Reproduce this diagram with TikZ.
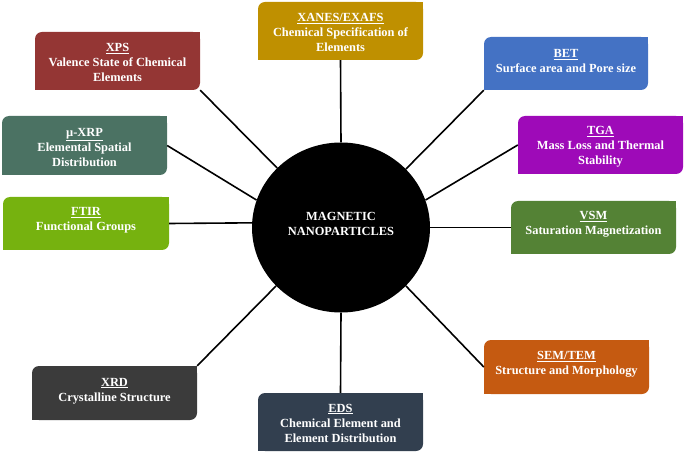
\documentclass[tikz,border=0pt]{standalone}
\usepackage{fontspec}
\setmainfont{Liberation Serif}
\usetikzlibrary{shapes.geometric}
\definecolor{cxps}{HTML}{943634}
\definecolor{cxanes}{HTML}{BF9000}
\definecolor{cmxrp}{HTML}{4B7263}
\definecolor{cftir}{HTML}{76B20F}
\definecolor{cbet}{HTML}{4472C4}
\definecolor{ctga}{HTML}{9E0AB8}
\definecolor{cvsm}{HTML}{548235}
\definecolor{cxrd}{HTML}{3B3B3B}
\definecolor{ceds}{HTML}{323F4F}
\definecolor{csem}{HTML}{C55A11}
\tikzset{
  tbox/.style={rectangle, rounded corners=7pt, inner sep=0pt, draw=none},
  ttext/.style={text=white, font=\fontsize{12.4}{15}\selectfont\bfseries, align=center, inner sep=0pt},
  link/.style={draw=black, line width=1.6pt},
  hub/.style={ellipse, fill=black, inner sep=0pt, minimum width=178pt, minimum height=170pt},
}
\newcommand\techbox[8]{%
  \node[tbox, fill=#6, minimum width=#4pt, minimum height=#5pt] (#1) at (#2,#3) {};
  \fill[#6] (#1.north east) rectangle ++(-8pt,-8pt);
  \fill[#6] (#1.south west) rectangle ++(8pt,8pt);
  \node[ttext] (#1-t) at (#2,#7) {#8};
}
\begin{document}
\begin{tikzpicture}[x=1pt,y=-1pt]
\useasboundingbox (0,0) rectangle (685,454);
\node[hub] (c) at (341,227.5) {};
\node[ttext] (ct) at (341,223.5) {MAGNETIC\\NANOPARTICLES};

\techbox{xps}{117.5}{61}{165}{58}{cxps}{62.5}{\underline{XPS}\\Valence State of Chemical\\Elements}
\techbox{xanes}{340.5}{31}{165}{58}{cxanes}{32.5}{\underline{XANES/EXAFS}\\Chemical Specification of\\Elements}
\techbox{mxrp}{84.5}{145.5}{165}{59}{cmxrp}{147.5}{\underline{µ-XRP}\\Elemental Spatial\\Distribution}
\techbox{ftir}{86}{223.5}{166}{53}{cftir}{220.5}{\underline{FTIR}\\Functional Groups}
\techbox{bet}{566}{63.5}{164}{53}{cbet}{61}{\underline{BET}\\Surface area and Pore size}
\techbox{tga}{600.5}{145}{165}{58}{ctga}{146.5}{\underline{TGA}\\Mass Loss and Thermal\\Stability}
\techbox{vsm}{593.5}{227.5}{165}{53}{cvsm}{224.5}{\underline{VSM}\\Saturation Magnetization}
\techbox{xrd}{114.5}{393}{165}{54}{cxrd}{391}{\underline{XRD}\\Crystalline Structure}
\techbox{eds}{340.5}{422}{165}{58}{ceds}{423}{\underline{EDS}\\Chemical Element and\\Element Distribution}
\techbox{sem}{566.5}{367}{165}{54}{csem}{364}{\underline{SEM/TEM}\\Structure and Morphology}

\draw[link] (xanes.south) -- (c.90);
\draw[link] (c.270) -- (eds.north);
\draw[link] (xps.south east) -- (c.137);
\draw[link] (mxrp.east) -- (c.162);
\draw[link] (ftir.east) -- (c.177);
\draw[link] (bet.south west) -- (c.42);
\draw[link] (tga.west) -- (c.18);
\draw[link] (c.0) -- (vsm.west);
\draw[link] (c.318) -- (sem.west);
\draw[link] (c.222) -- (xrd.north east);
\end{tikzpicture}
\end{document}
